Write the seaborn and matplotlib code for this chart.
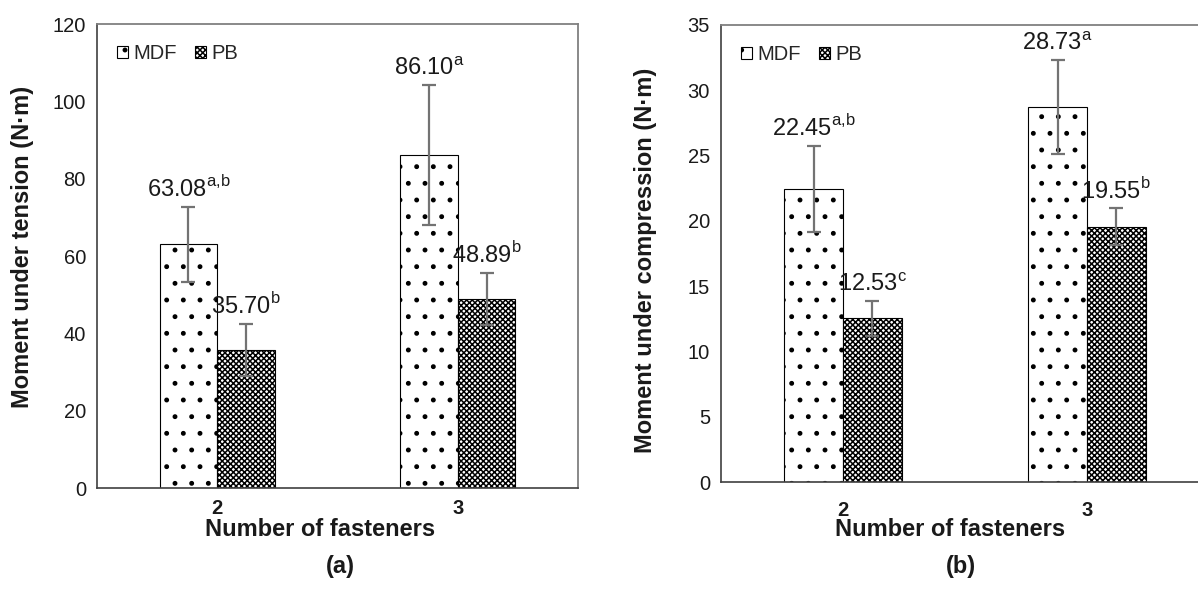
import matplotlib
matplotlib.use("Agg")
import matplotlib.pyplot as plt
from matplotlib.patches import Patch
import pandas as pd
import seaborn as sns

# data
fasteners = ["2", "3"]
materials = ["MDF", "PB"]

tension_mdf = [63.08, 86.10]
tension_pb = [35.70, 48.89]
tension_mdf_err = [9.7, 18.1]
tension_pb_err = [6.8, 6.7]
tension_mdf_letters = ["a{,}b", "a"]
tension_pb_letters = ["b", "b"]

compression_mdf = [22.45, 28.73]
compression_pb = [12.53, 19.55]
compression_mdf_err = [3.3, 3.6]
compression_pb_err = [1.35, 1.4]
compression_mdf_letters = ["a{,}b", "a"]
compression_pb_letters = ["c", "b"]

hatches = {"MDF": ".", "PB": "xxxxxx"}

sns.set_style("white")
plt.rcParams["font.family"] = ["Liberation Sans", "DejaVu Sans"]
plt.rcParams["hatch.linewidth"] = 1.1


def draw_panel(ax, mdf, pb, mdf_err, pb_err, mdf_lab, pb_lab, ylabel, ymax, ystep, tick_pad):
    df = pd.DataFrame({
        "fasteners": fasteners * 2,
        "material": ["MDF"] * len(fasteners) + ["PB"] * len(fasteners),
        "value": mdf + pb,
    })
    sns.barplot(data=df, x="fasteners", y="value", hue="material", order=fasteners,
                hue_order=materials, width=0.48, gap=0, palette=["white", "white"],
                edgecolor="black", linewidth=0.8, errorbar=None, legend=False, ax=ax)

    errs = {"MDF": mdf_err, "PB": pb_err}
    labs = {"MDF": mdf_lab, "PB": pb_lab}
    vals = {"MDF": mdf, "PB": pb}
    for mat, cont in zip(materials, ax.containers):
        xs = []
        for bar in cont:
            bar.set_hatch(hatches[mat])
            xs.append(bar.get_x() + bar.get_width() / 2)
        ax.errorbar(xs, vals[mat], yerr=errs[mat], fmt="none", ecolor="#737373",
                    elinewidth=1.6, capsize=5, capthick=1.6, zorder=5)
        for x, v, e, l in zip(xs, vals[mat], errs[mat], labs[mat]):
            ax.annotate(f"{v:.2f}" + r"$^{\mathregular{" + l + "}}$", (x, v + e),
                        xytext=(0, 7), textcoords="offset points", ha="center",
                        va="baseline", fontsize=17, color="#1a1a1a", zorder=6)

    ax.set_ylim(0, ymax)
    ax.set_yticks(range(0, ymax + 1, ystep))
    ax.set_xlim(-0.5, len(fasteners) - 0.5)
    ax.tick_params(axis="y", length=0, labelsize=14.5, pad=8, colors="#1a1a1a")
    ax.tick_params(axis="x", length=0, labelsize=14.5, pad=tick_pad, colors="#1a1a1a")
    for t in ax.get_xticklabels():
        t.set_fontweight("bold")
    ax.set_xlabel("")
    ax.set_ylabel(ylabel, fontsize=17, fontweight="bold", color="#1a1a1a")
    for side in ["left", "bottom"]:
        ax.spines[side].set_color("#404040")
        ax.spines[side].set_linewidth(1.2)
    for side in ["top", "right"]:
        ax.spines[side].set_color("#808080")
        ax.spines[side].set_linewidth(1.3)

    handles = [Patch(facecolor="white", edgecolor="black", linewidth=0.8,
                     hatch=hatches[m], label=m) for m in materials]
    ax.legend(handles=handles, loc="upper left", ncol=2, frameon=False, fontsize=14.5,
              handlelength=0.55, handleheight=0.55, handletextpad=0.25,
              columnspacing=0.9, borderaxespad=0.6)


fig = plt.figure(figsize=(11.98, 6.01), dpi=100)
ax1 = fig.add_axes([97 / 1198, 113 / 601, 481 / 1198, 464 / 601])
ax2 = fig.add_axes([721 / 1198, 119 / 601, 488 / 1198, 457 / 601])

draw_panel(ax1, tension_mdf, tension_pb, tension_mdf_err, tension_pb_err,
           tension_mdf_letters, tension_pb_letters,
           "Moment under tension (N·m)", 120, 20, 8)
draw_panel(ax2, compression_mdf, compression_pb, compression_mdf_err, compression_pb_err,
           compression_mdf_letters, compression_pb_letters,
           "Moment under compression (N·m)", 35, 5, 14)

ax1.yaxis.set_label_coords(-0.131, 0.519)
ax2.yaxis.set_label_coords(-0.131, 0.486)

fig.text(320 / 1198, 1 - 530 / 601, "Number of fasteners", ha="center", va="center",
         fontsize=17, fontweight="bold", color="#1a1a1a")
fig.text(950 / 1198, 1 - 530 / 601, "Number of fasteners", ha="center", va="center",
         fontsize=17, fontweight="bold", color="#1a1a1a")
fig.text(340 / 1198, 1 - 566 / 601, "(a)", ha="center", va="center",
         fontsize=17, fontweight="bold", color="#1a1a1a")
fig.text(961 / 1198, 1 - 566 / 601, "(b)", ha="center", va="center",
         fontsize=17, fontweight="bold", color="#1a1a1a")

fig.savefig("out.png", dpi=100)
